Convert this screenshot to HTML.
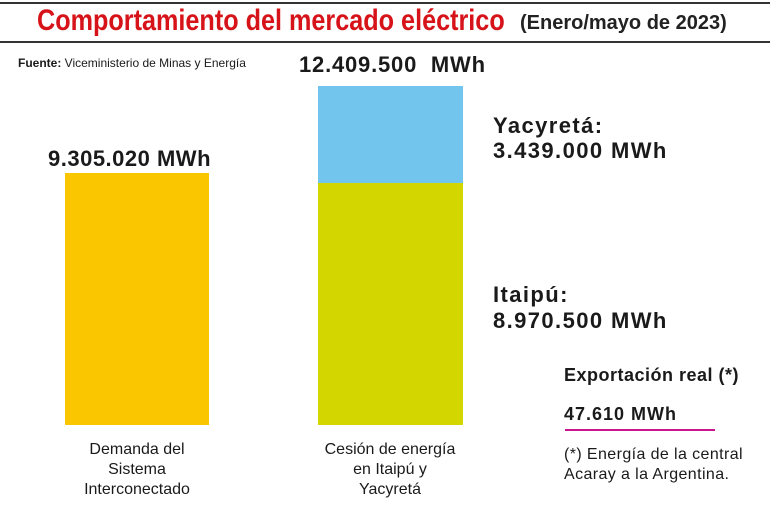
<!DOCTYPE html>
<html><head><meta charset="utf-8"><style>
body{margin:0;width:770px;height:513px;background:#fff;position:relative;overflow:hidden;font-family:"Liberation Sans",sans-serif;color:#1a1a1a}
.a{position:absolute;white-space:nowrap}
.b{font-weight:bold}
</style></head><body>
<div class="a" style="left:0;top:2px;width:770px;height:2px;background:#333"></div>
<div class="a" style="left:0;top:41px;width:770px;height:2px;background:#333"></div>
<div class="a b" style="left:37px;top:4px;font-size:30px;color:#d7131a;transform:scaleX(0.84);transform-origin:0 0">Comportamiento del mercado eléctrico</div>
<div class="a b" style="left:520px;top:12px;font-size:20px;color:#222">(Enero/mayo de 2023)</div>
<div class="a" style="left:18px;top:56px;font-size:12px"><b>Fuente:</b> Viceministerio de Minas y Energía</div>
<div class="a b" style="left:299px;top:52px;font-size:22px;letter-spacing:0.8px">12.409.500&nbsp; MWh</div>
<div class="a b" style="left:48px;top:146px;font-size:22px;letter-spacing:0.5px">9.305.020 MWh</div>
<div class="a" style="left:65px;top:173px;width:144px;height:252px;background:#f9c600"></div>
<div class="a" style="left:318px;top:86px;width:145px;height:97px;background:#72c5ed"></div>
<div class="a" style="left:318px;top:183px;width:145px;height:242px;background:#d4d600"></div>
<div class="a b" style="left:493px;top:113px;font-size:22px;line-height:25px;letter-spacing:1.4px">Yacyretá:<br>3.439.000 MWh</div>
<div class="a b" style="left:493px;top:282px;font-size:22px;line-height:26px;letter-spacing:1.4px">Itaipú:<br>8.970.500 MWh</div>
<div class="a b" style="left:564px;top:365px;font-size:18px;letter-spacing:0.5px">Exportación real (*)</div>
<div class="a b" style="left:564px;top:404px;font-size:18px;letter-spacing:1px">47.610 MWh</div>
<div class="a" style="left:565px;top:429px;width:150px;height:2px;background:#c8168e"></div>
<div class="a" style="left:564px;top:445px;font-size:16px;line-height:20px;letter-spacing:0.4px">(*) Energía de la central<br>Acaray a la Argentina.</div>
<div class="a" style="left:37px;top:440px;width:200px;text-align:center;font-size:16px;line-height:20px">Demanda del<br>Sistema<br>Interconectado</div>
<div class="a" style="left:290px;top:440px;width:200px;text-align:center;font-size:16px;line-height:20px">Cesión de energía<br>en Itaipú y<br>Yacyretá</div>
</body></html>
